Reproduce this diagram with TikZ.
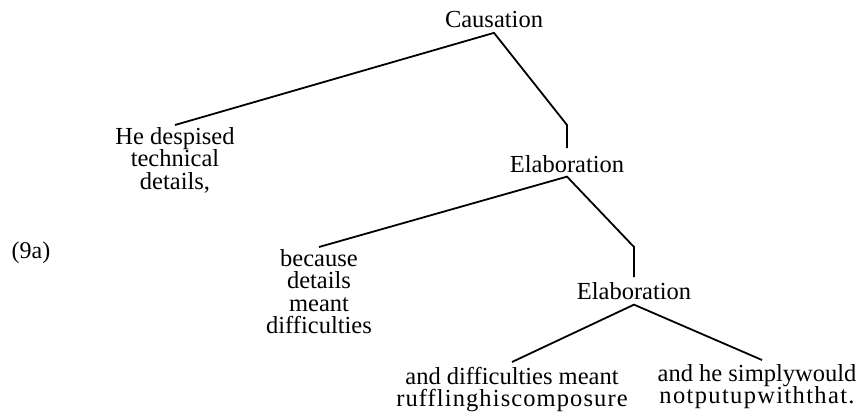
\documentclass[tikz,border=0pt]{standalone}
\usepackage{fontspec}
\setmainfont{Liberation Serif}
\usetikzlibrary{calc}
\begin{document}
\begin{tikzpicture}[x=1pt,y=-1pt,
  lbl/.style={inner sep=0pt, align=center, anchor=north, font=\fontsize{24.5}{22.5}\selectfont},
  conn/.style={line width=1.8pt, line join=miter}]
\useasboundingbox (0,0) rectangle (866,412);
\node[inner sep=0pt, anchor=base, font=\fontsize{24}{22.5}\selectfont] (ex) at (31,258) {(9a)};
\node[lbl] (cause) at (494,11) {Causation};
\node[lbl] (he) at (175,127) {He despised\\technical\\details,};
\node[lbl] (elab1) at (567,155) {Elaboration};
\node[lbl] (because) at (319,249) {because\\details\\meant\\difficulties};
\node[lbl] (elab2) at (634,282) {Elaboration};
\node[lbl] (diff) at (512,367) {and difficulties meant\\{\addfontfeature{LetterSpace=4.5}rufflinghiscomposure}};
\node[lbl] (simply) at (757,364) {and he simplywould\\{\addfontfeature{LetterSpace=5.5}notputupwiththat.}};
\draw[conn] ($(he.north)+(0,-2)$) -- ($(cause.south)+(0,5)$) -- ($(elab1.north |- he.north)+(0,-2)$) -- ($(elab1.north)+(0,-7)$);
\draw[conn] ($(because.north)+(0,-2)$) -- ($(elab1.south)+(0,4)$) -- ($(elab2.north |- because.north)+(0,-2)$) -- ($(elab2.north)+(0,-5)$);
\draw[conn] ($(diff.north)+(0,-5)$) -- ($(elab2.south)+(0,5)$) -- ($(simply.north)+(5,-4)$);
\end{tikzpicture}
\end{document}
